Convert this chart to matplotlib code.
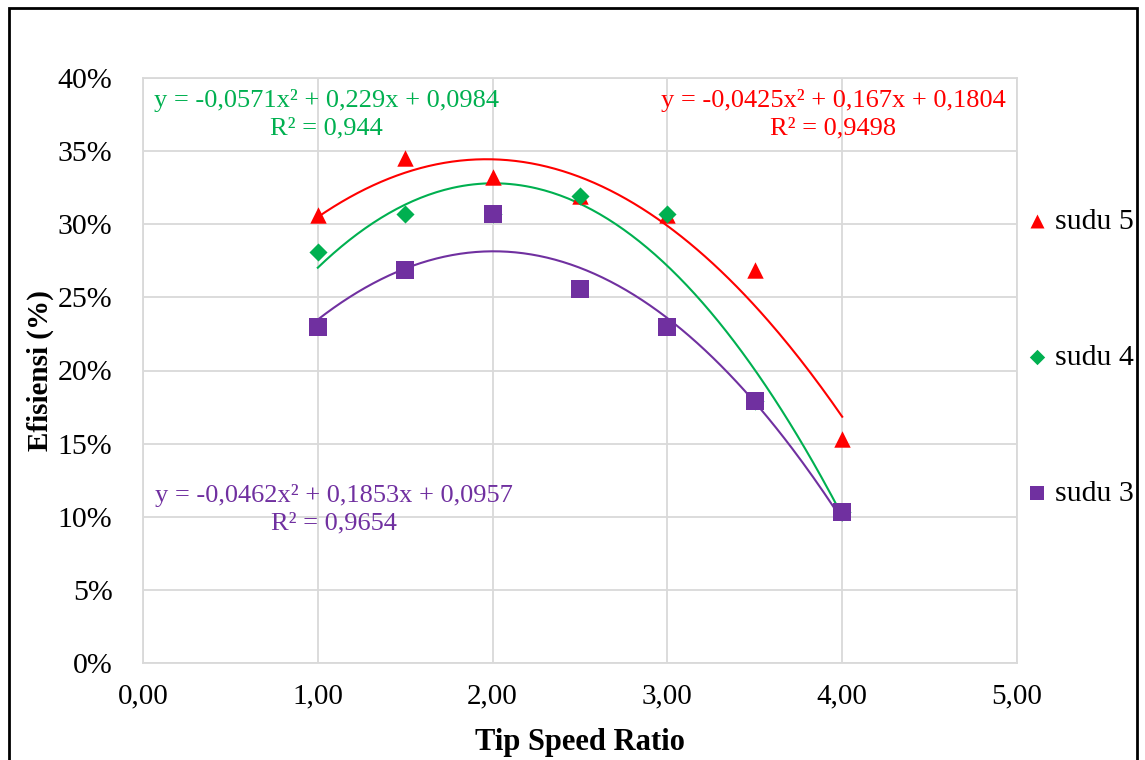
import numpy as np
import matplotlib
matplotlib.use("Agg")
import matplotlib.pyplot as plt
from matplotlib.patches import Rectangle
from matplotlib.ticker import FuncFormatter, MultipleLocator

plt.rcParams['font.family'] = ['Liberation Serif', 'DejaVu Serif']

tsr = [1.0, 1.5, 2.0, 2.5, 3.0, 3.5, 4.0]
sudu5 = [0.306, 0.345, 0.332, 0.319, 0.306, 0.269, 0.153]
sudu4 = [0.281, 0.307, 0.307, 0.319, 0.307, 0.179, 0.103]
sudu3 = [0.230, 0.269, 0.307, 0.256, 0.230, 0.179, 0.103]

coef5 = [-0.0425, 0.167, 0.1804]
coef4 = [-0.0571, 0.229, 0.0984]
coef3 = [-0.0462, 0.1853, 0.0957]

eq5 = "y = -0,0425x² + 0,167x + 0,1804\nR² = 0,9498"
eq4 = "y = -0,0571x² + 0,229x + 0,0984\nR² = 0,944"
eq3 = "y = -0,0462x² + 0,1853x + 0,0957\nR² = 0,9654"

c5, c4, c3 = '#ff0000', '#00b050', '#7030a0'

fig = plt.figure(figsize=(11.45, 7.6), dpi=100)
ax = fig.add_axes([143/1145, 1-663/760, (1017-143)/1145, (663-78)/760])

xs = np.linspace(min(tsr), max(tsr), 200)
ax.plot(xs, np.polyval(coef5, xs), color=c5, lw=1.5, zorder=3)
ax.plot(xs, np.polyval(coef4, xs), color=c4, lw=1.5, zorder=3)
ax.plot(xs, np.polyval(coef3, xs), color=c3, lw=1.5, zorder=3)

h5 = ax.scatter(tsr, sudu5, marker='^', s=140, color=c5, zorder=4, linewidths=0)
h4 = ax.scatter(tsr, sudu4, marker='D', s=85, color=c4, zorder=5, linewidths=0)
h3 = ax.scatter(tsr, sudu3, marker='s', s=155, color=c3, zorder=6, linewidths=0)

ax.set_xlim(0, 5)
ax.set_ylim(0, 0.40)
ax.xaxis.set_major_locator(MultipleLocator(1))
ax.yaxis.set_major_locator(MultipleLocator(0.05))
ax.xaxis.set_major_formatter(FuncFormatter(lambda v, p: f"{v:.2f}".replace('.', ',')))
ax.yaxis.set_major_formatter(FuncFormatter(lambda v, p: f"{v*100:.0f}%"))
ax.grid(True, color='#d9d9d9', lw=1.3, zorder=0)
ax.set_axisbelow(True)
for s in ax.spines.values():
    s.set_color('#d9d9d9')
    s.set_linewidth(1.3)
ax.tick_params(axis='y', length=0, labelsize=21.5, pad=22)
ax.tick_params(axis='x', length=0, labelsize=21, pad=15)

ax.set_xlabel('Tip Speed Ratio', fontsize=22, fontweight='bold', labelpad=13)
ax.set_ylabel('Efisiensi (%)', fontsize=21, fontweight='bold', labelpad=3)

kw = dict(fontsize=19, ha='center', va='center', linespacing=1.3, multialignment='center')
ax.text(1.05, 0.3754, eq4, color=c4, **kw)
ax.text(3.95, 0.3754, eq5, color=c5, **kw)
ax.text(1.09, 0.1053, eq3, color=c3, **kw)

fig.legend(handles=[h5, h4, h3], labels=['sudu 5', 'sudu 4', 'sudu 3'],
           loc='upper left', bbox_to_anchor=(1024/1145, 1-208/760), frameon=False,
           fontsize=21.5, handletextpad=0.15, labelspacing=3.65, markerscale=0.85,
           handlelength=0.9, borderpad=0, borderaxespad=0)

fig.patches.append(Rectangle((9/1145, -0.02), (1137-9)/1145, 1-8/760+0.02,
                             transform=fig.transFigure, fill=False, ec='black', lw=2))

fig.savefig('out.png', dpi=100)
